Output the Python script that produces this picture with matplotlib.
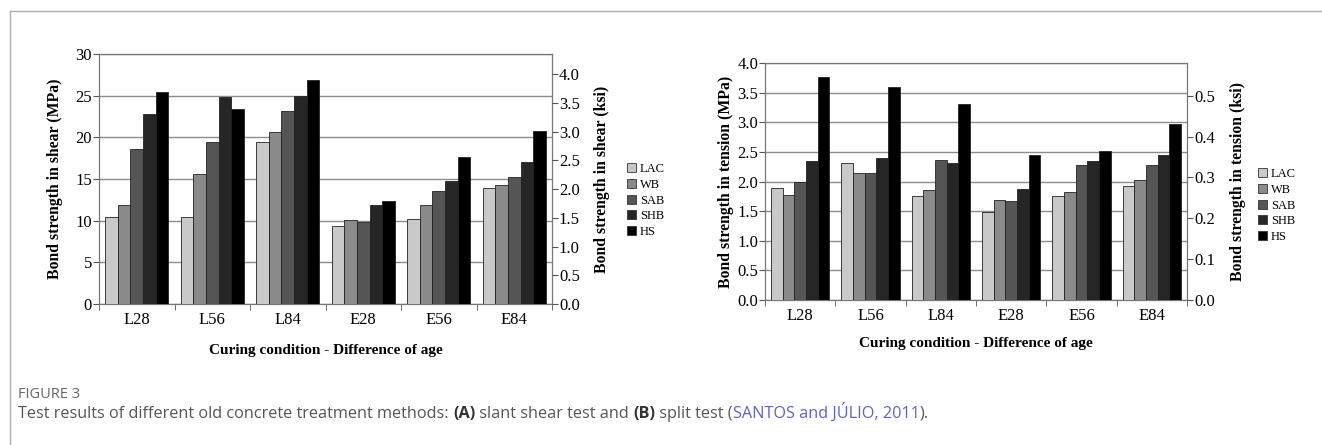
import matplotlib.pyplot as plt
from matplotlib.lines import Line2D
import numpy as np

# data
categories = ['L28', 'L56', 'L84', 'E28', 'E56', 'E84']
methods = ['LAC', 'WB', 'SAB', 'SHB', 'HS']
colors = ['#c9c9c9', '#8a8a8a', '#555555', '#262626', '#000000']

# (A) slant shear test, MPa
shear = {
    'LAC': [10.4, 10.4, 19.4, 9.4, 10.2, 13.9],
    'WB':  [11.9, 15.6, 20.6, 10.1, 11.9, 14.3],
    'SAB': [18.6, 19.4, 23.1, 9.9, 13.6, 15.3],
    'SHB': [22.8, 24.9, 25.0, 11.9, 14.8, 17.0],
    'HS':  [25.4, 23.4, 26.9, 12.4, 17.7, 20.8],
}
# (B) split test, MPa
tension = {
    'LAC': [1.89, 2.31, 1.76, 1.49, 1.75, 1.93],
    'WB':  [1.78, 2.14, 1.85, 1.68, 1.82, 2.03],
    'SAB': [1.99, 2.14, 2.37, 1.67, 2.28, 2.28],
    'SHB': [2.34, 2.39, 2.31, 1.88, 2.34, 2.45],
    'HS':  [3.77, 3.60, 3.31, 2.44, 2.52, 2.97],
}
MPA_PER_KSI = 6.895

plt.rcParams['font.family'] = ['Liberation Serif', 'DejaVu Serif']

W, H = 1322, 445
fig = plt.figure(figsize=(W / 100, H / 100), dpi=100)


def px_axes(left, top, right, bottom):
    return fig.add_axes([left / W, 1 - bottom / H, (right - left) / W, (bottom - top) / H])


def bar_panel(ax, data, ymax, ystep, ksi_ticks, ylab, ylab_r, xlab_pad, lpad, rpad, leg_x, leg_y):
    x = np.arange(len(categories))
    n = len(methods)
    bw = 0.83 / n
    for i, m in enumerate(methods):
        ax.bar(x - 0.415 + bw * (i + 0.5), data[m], width=bw, color=colors[i],
               edgecolor='#222222', linewidth=0.6, label=m, zorder=3)
    ax.set_xlim(-0.5, len(categories) - 0.5)
    ax.set_ylim(0, ymax)
    ax.set_yticks(np.arange(0, ymax + 1e-9, ystep))
    if ystep < 1:
        ax.set_yticklabels(['%.1f' % v for v in np.arange(0, ymax + 1e-9, ystep)])
    ax.grid(axis='y', color='#8c8c8c', linewidth=1.0, zorder=0)
    ax.set_xticks(x)
    ax.set_xticklabels(categories, fontsize=12)
    ax.set_xticks(np.arange(-0.5, len(categories)), minor=True)
    ax.tick_params(axis='x', which='major', length=0, pad=6)
    ax.tick_params(axis='x', which='minor', length=4, direction='out', color='#555555')
    ax.tick_params(axis='y', length=4, direction='out', color='#555555', labelsize=12, pad=1)
    for s in ax.spines.values():
        s.set_color('#777777')
        s.set_linewidth(0.9)
    ax.set_ylabel(ylab, fontsize=11.3, fontweight='bold', labelpad=lpad)
    ax.set_xlabel('Curing condition - Difference of age', fontsize=11, fontweight='bold',
                  labelpad=xlab_pad)

    ax2 = ax.twinx()
    ax2.set_ylim(0, ymax / MPA_PER_KSI)
    ax2.set_yticks(ksi_ticks)
    ax2.set_yticklabels(['%.1f' % v for v in ksi_ticks])
    ax2.tick_params(axis='y', length=4, direction='out', color='#555555', labelsize=12, pad=1)
    for s in ax2.spines.values():
        s.set_visible(False)
    ax2.set_ylabel(ylab_r, fontsize=11.3, fontweight='bold', labelpad=rpad)

    handles = [plt.Rectangle((0, 0), 1, 1, facecolor=c, edgecolor='#333333', linewidth=0.6)
               for c in colors]
    fig.legend(handles, methods, loc='upper left',
               bbox_to_anchor=(leg_x / W, 1 - leg_y / H), frameon=False,
               fontsize=9, handlelength=0.75, handleheight=0.75, handletextpad=0.3,
               labelspacing=0.3, borderpad=0, borderaxespad=0)


axA = px_axes(99, 54, 552, 304)
bar_panel(axA, shear, 30, 5, np.arange(0, 4.01, 0.5),
          'Bond strength in shear (MPa)', 'Bond strength in shear (ksi)', 11, 9, 10, 627, 163)

axB = px_axes(765, 63, 1187, 300)
bar_panel(axB, tension, 4.0, 0.5, np.arange(0, 0.51, 0.1),
          'Bond strength in tension (MPa)', 'Bond strength in tension (ksi)', 9, 2, 11, 1258, 168)

# outer frame (left and top edges)
fig.add_artist(Line2D([9.5 / W, 9.5 / W], [0, 1 - 11 / H], color='#b0b0b0', linewidth=1,
                      transform=fig.transFigure))
fig.add_artist(Line2D([9.5 / W, 1], [1 - 11 / H, 1 - 11 / H], color='#b0b0b0', linewidth=1,
                      transform=fig.transFigure))

# caption
cap = fig.add_axes([0, 0, 1, 1], facecolor='none')
cap.axis('off')
sans = ['Open Sans', 'DejaVu Sans']
cap.text(18 / W, 1 - 395 / H, 'FIGURE 3', fontsize=10.5, color='#666666', family=sans,
         va='center', ha='left')
pieces = [
    ('Test results of different old concrete treatment methods: ', '#555555', 'normal'),
    ('(A)', '#333333', 'bold'),
    (' slant shear test and ', '#555555', 'normal'),
    ('(B)', '#333333', 'bold'),
    (' split test (', '#555555', 'normal'),
    ('SANTOS and JÚLIO, 2011', '#5b63c9', 'normal'),
    (').', '#555555', 'normal'),
]
prev = cap.text(18 / W, 1 - 414 / H, pieces[0][0], fontsize=11.7, color=pieces[0][1],
                family=sans, fontweight=pieces[0][2], va='center', ha='left')
for txt, col, wt in pieces[1:]:
    prev = cap.annotate(txt, xy=(1, 0), xycoords=prev, va='bottom', ha='left',
                        fontsize=11.7, color=col, family=sans, fontweight=wt)

fig.savefig('out.png', dpi=100)
